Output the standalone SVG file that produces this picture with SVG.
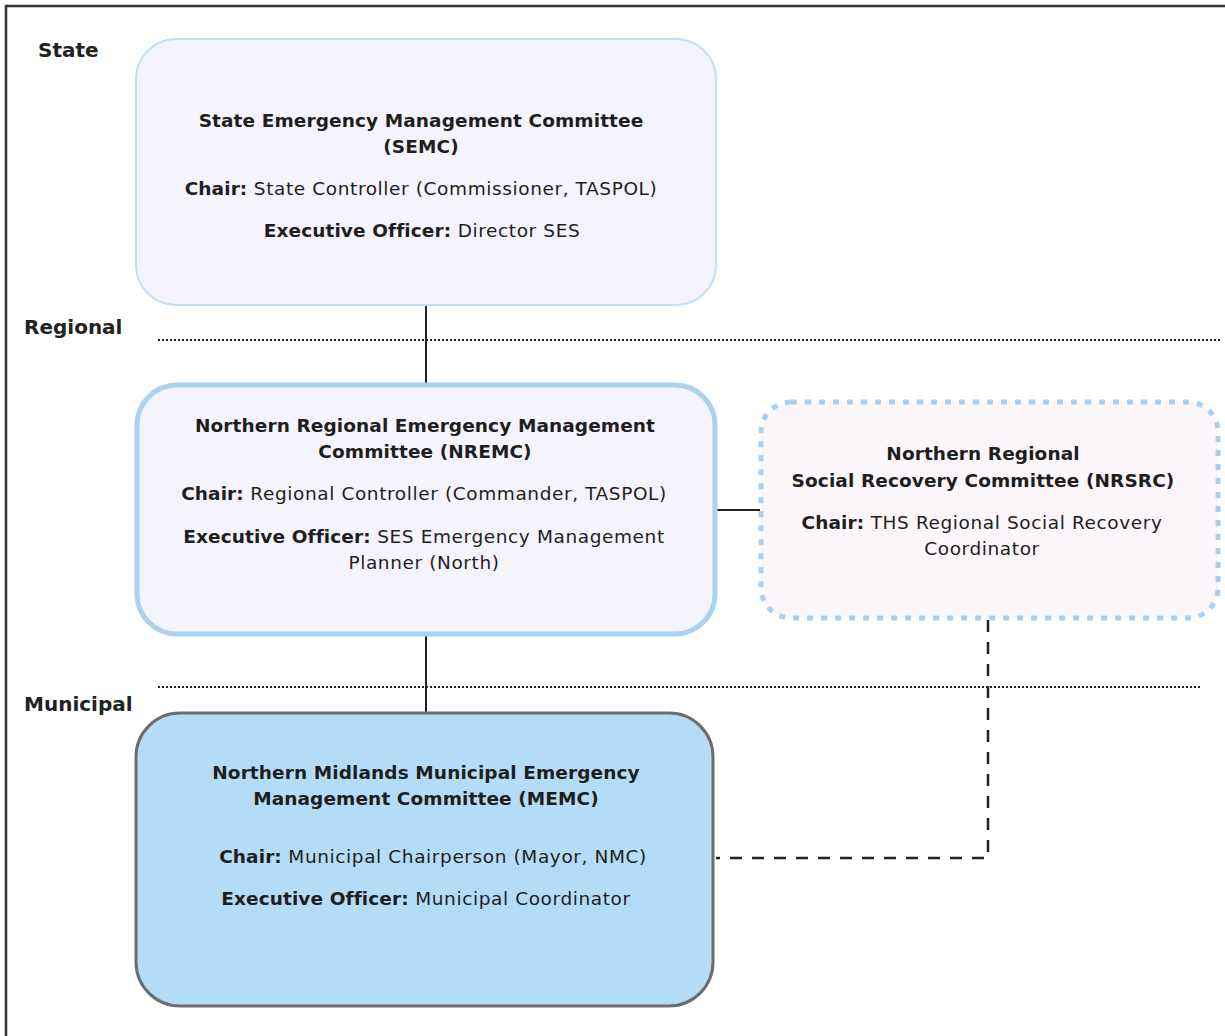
<svg xmlns="http://www.w3.org/2000/svg" width="1225" height="1036" viewBox="0 0 1225 1036">
<style>
text{font-family:"DejaVu Sans","Liberation Sans",sans-serif;fill:#1e1e1e;text-anchor:middle;font-size:18.5px;letter-spacing:0.6px}
.b{font-weight:bold;letter-spacing:0.1px}
.lvl{text-anchor:start;font-size:20px;font-weight:bold;fill:#222;letter-spacing:0}
.dot{stroke:#222;stroke-width:2;stroke-dasharray:2 2;fill:none}
.conn{stroke:#222;stroke-width:2;fill:none}
.dash{stroke:#222;stroke-width:2.5;stroke-dasharray:12 10;fill:none}
</style>
<rect width="1225" height="1036" fill="#ffffff"/>
<path d="M6,1036 V6 H1225" fill="none" stroke="#333" stroke-width="2.5"/>
<text class="lvl" x="38" y="57">State</text>
<text class="lvl" x="24" y="334">Regional</text>
<text class="lvl" x="24" y="711">Municipal</text>
<line class="dot" x1="158" y1="340" x2="1222" y2="340"/>
<line class="dot" x1="158" y1="687" x2="1200" y2="687"/>
<g id="connectors">
<line class="conn" x1="426" y1="306" x2="426" y2="384"/>
<line class="conn" x1="426" y1="636" x2="426" y2="712"/>
<line class="conn" x1="717" y1="510" x2="760" y2="510"/>
<path class="dash" d="M988,620 V858 H716"/>
</g>
<g id="semc">
<rect x="136" y="39" width="580" height="266" rx="40" fill="#f5f3fb" stroke="#c4def3" stroke-width="2"/>
<text x="421" y="127" class="b">State Emergency Management Committee</text>
<text x="421" y="153" class="b">(SEMC)</text>
<text x="421" y="195"><tspan class="b">Chair:</tspan> State Controller (Commissioner, TASPOL)</text>
<text x="422" y="237"><tspan class="b">Executive Officer:</tspan> Director SES</text>
</g>
<g id="nremc">
<rect x="137" y="385" width="578" height="249" rx="40" fill="#f5f3fb" stroke="#a9d3f1" stroke-width="5"/>
<text x="425" y="432" class="b">Northern Regional Emergency Management</text>
<text x="425" y="458" class="b">Committee (NREMC)</text>
<text x="424" y="500"><tspan class="b">Chair:</tspan> Regional Controller (Commander, TASPOL)</text>
<text x="424" y="543"><tspan class="b">Executive Officer:</tspan> SES Emergency Management</text>
<text x="424" y="569">Planner (North)</text>
</g>
<g id="nrsrc">
<rect x="761" y="402" width="457" height="216" rx="30" fill="#faf6fa" stroke="#a9cff0" stroke-width="5" stroke-dasharray="6 8"/>
<text x="983" y="460" class="b">Northern Regional</text>
<text x="983" y="487" class="b">Social Recovery Committee (NRSRC)</text>
<text x="982" y="529"><tspan class="b">Chair:</tspan> THS Regional Social Recovery</text>
<text x="982" y="555">Coordinator</text>
</g>
<g id="memc">
<rect x="136" y="713" width="577" height="293" rx="44" fill="#b5dcf6" stroke="#6d6d70" stroke-width="3"/>
<text x="426" y="779" class="b">Northern Midlands Municipal Emergency</text>
<text x="426" y="805" class="b">Management Committee (MEMC)</text>
<text x="433" y="863"><tspan class="b">Chair:</tspan> Municipal Chairperson (Mayor, NMC)</text>
<text x="426" y="905"><tspan class="b">Executive Officer:</tspan> Municipal Coordinator</text>
</g>
</svg>
